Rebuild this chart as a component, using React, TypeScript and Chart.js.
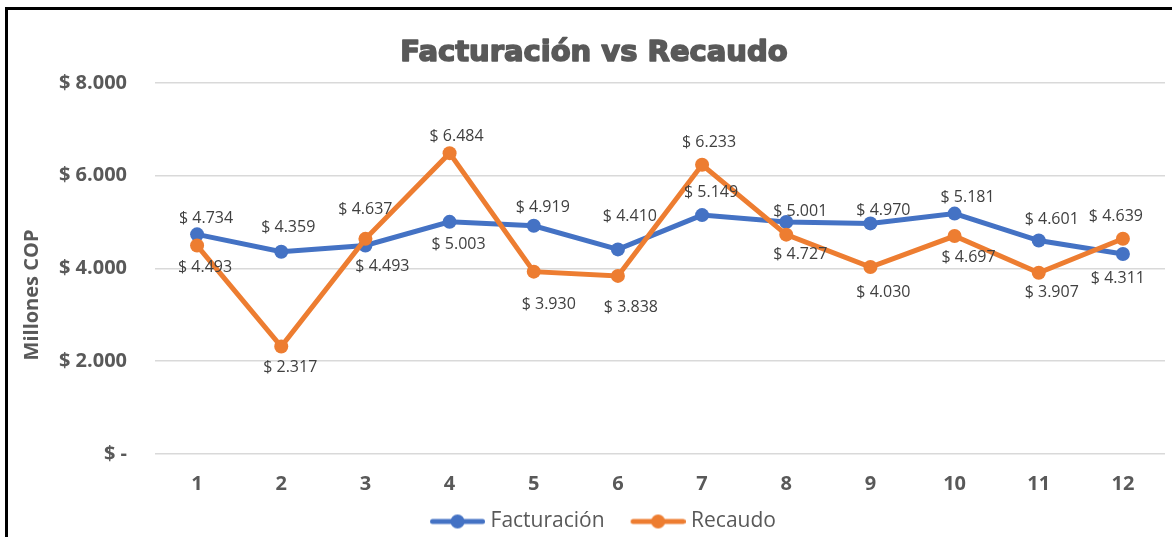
import React, { useEffect, useRef } from 'react';
import { Chart, registerables } from 'chart.js';

Chart.register(...registerables);

// ---- Data ----
const categories = ['1', '2', '3', '4', '5', '6', '7', '8', '9', '10', '11', '12'];
const facturacion = [4734, 4359, 4493, 5003, 4919, 4410, 5149, 5001, 4970, 5181, 4601, 4311];
const recaudo = [4493, 2317, 4637, 6484, 3930, 3838, 6233, 4727, 4030, 4697, 3907, 4639];
const seriesNames = ['Facturación', 'Recaudo'];
const chartTitle = 'Facturación vs Recaudo';
const yAxisTitle = 'Millones COP';

// data-label offsets relative to each point (style: [dx, dy] in px), per series
const labelOffsets = [
  [[9, -16], [7, -24], [17, 21], [9, 23], [9, -18], [12, -33], [9, -23], [14, -11], [13, -13], [13, -16], [13, -21], [-5, 24]],
  [[8, 22], [9, 21], [0, -29], [7, -17], [15, 33], [13, 32], [7, -22], [14, 20], [13, 25], [14, 21], [13, 20], [-7, -22]],
];

const BLUE = '#4472C4';
const ORANGE = '#ED7D31';
const GRAY = '#595959';
const TITLE_SIZE = 29;
const TITLE_PAD_TOP = 22;

const fmt = (v: number) => String(Math.round(v)).replace(/\B(?=(\d{3})+(?!\d))/g, '.');

function makeLegendIcon(color: string) {
  const c = document.createElement('canvas');
  c.width = 78;
  c.height = 18;
  const g = c.getContext('2d')!;
  g.strokeStyle = color;
  g.lineWidth = 5;
  g.lineCap = 'round';
  g.beginPath();
  g.moveTo(25.5, 9);
  g.lineTo(75.5, 9);
  g.stroke();
  g.fillStyle = color;
  g.beginPath();
  g.arc(50.5, 9, 7, 0, Math.PI * 2);
  g.fill();
  return c;
}

const labelPlugin = {
  id: 'valueLabels',
  afterDatasetsDraw(chart: any) {
    const ctx = chart.ctx;
    ctx.save();
    ctx.font = '16px "Open Sans"';
    ctx.fillStyle = '#404040';
    ctx.textAlign = 'center';
    ctx.textBaseline = 'middle';
    chart.data.datasets.forEach((ds: any, di: number) => {
      const meta = chart.getDatasetMeta(di);
      meta.data.forEach((pt: any, i: number) => {
        const v = ds.data[i];
        const [dx, dy] = labelOffsets[di][i];
        ctx.fillText('$ ' + fmt(v), pt.x + dx, pt.y + dy);
      });
    });
    ctx.restore();
  },
  afterDraw(chart: any) {
    const ctx = chart.ctx;
    // y-axis title
    ctx.save();
    ctx.translate(32, 295);
    ctx.rotate(-Math.PI / 2);
    ctx.font = 'bold 20px "Open Sans"';
    ctx.fillStyle = GRAY;
    ctx.textAlign = 'center';
    ctx.textBaseline = 'middle';
    ctx.fillText(yAxisTitle, 0, 0);
    ctx.restore();
    // thicken the title (heavy look)
    const tb = chart.titleBlock;
    if (tb) {
      ctx.save();
      ctx.font = `bold ${TITLE_SIZE}px "DejaVu Sans"`;
      ctx.textAlign = 'center';
      ctx.textBaseline = 'middle';
      ctx.strokeStyle = GRAY;
      ctx.lineWidth = 1.6;
      ctx.lineJoin = 'round';
      const cx = (tb.left + tb.right) / 2;
      const cy = tb.top + TITLE_PAD_TOP + (TITLE_SIZE * 1.2) / 2;
      ctx.strokeText(chartTitle, cx, cy);
      ctx.restore();
    }
  },
};

export default function App() {
  const ref = useRef<HTMLCanvasElement>(null);
  useEffect(() => {
    const icons = [makeLegendIcon(BLUE), makeLegendIcon(ORANGE)];
    const chart = new Chart(ref.current!, {
      type: 'line',
      data: {
        labels: categories,
        datasets: [
          {
            label: seriesNames[0],
            data: facturacion,
            borderColor: BLUE,
            backgroundColor: BLUE,
            borderWidth: 5,
            pointRadius: 7,
            pointHoverRadius: 7,
            pointBorderWidth: 0,
            tension: 0,
            order: 1,
          },
          {
            label: seriesNames[1],
            data: recaudo,
            borderColor: ORANGE,
            backgroundColor: ORANGE,
            borderWidth: 5,
            pointRadius: 7,
            pointHoverRadius: 7,
            pointBorderWidth: 0,
            tension: 0,
            order: 0,
          },
        ],
      },
      options: {
        responsive: false,
        animation: false,
        devicePixelRatio: 1,
        layout: { padding: { left: 23, right: 7, top: 14, bottom: -5 } },
        scales: {
          x: {
            offset: true,
            afterFit: (s: any) => {
              s.height = 49;
            },
            grid: { display: false, drawTicks: false },
            border: { display: false },
            ticks: {
              color: GRAY,
              padding: 18,
              font: { family: '"Open Sans"', size: 20, weight: 'bold' },
            },
          },
          y: {
            min: 0,
            max: 8000,
            afterFit: (s: any) => {
              s.width = 132;
            },
            grid: { color: '#D9D9D9', lineWidth: 1.5, drawTicks: false },
            border: { display: false },
            ticks: {
              stepSize: 2000,
              color: GRAY,
              padding: 28,
              font: { family: '"Open Sans"', size: 20, weight: 'bold' },
              callback: (v: any) => (Number(v) === 0 ? '$ -' : '$ ' + fmt(Number(v))),
            },
          },
        },
        plugins: {
          title: {
            display: true,
            text: chartTitle,
            color: GRAY,
            font: { family: '"DejaVu Sans"', size: TITLE_SIZE, weight: 'bold' },
            padding: { top: TITLE_PAD_TOP, bottom: 12 },
          },
          legend: {
            position: 'bottom',
            labels: {
              usePointStyle: true,
              pointStyleWidth: 68,
              boxHeight: 18,
              padding: 8,
              color: GRAY,
              font: { family: '"Open Sans"', size: 21 },
              sort: (a: any, b: any) => a.datasetIndex - b.datasetIndex,
              generateLabels: (ch: any) =>
                (Chart.defaults.plugins.legend.labels.generateLabels as any)(ch).map((l: any) => ({
                  ...l,
                  pointStyle: icons[l.datasetIndex],
                  fontColor: GRAY,
                })),
            },
          },
          tooltip: { enabled: false },
        },
      },
      plugins: [labelPlugin],
    });
    return () => chart.destroy();
  }, []);

  return (
    <div style={{ position: 'fixed', left: 0, top: 0, width: 1172, height: 537, background: '#fff' }}>
      <canvas ref={ref} width={1172} height={537} style={{ position: 'absolute', left: 0, top: 0 }} />
      <div
        style={{
          position: 'absolute',
          left: 5,
          top: 7,
          width: 1200,
          height: 600,
          borderTop: '3px solid #000',
          borderLeft: '3px solid #000',
          pointerEvents: 'none',
        }}
      />
    </div>
  );
}
